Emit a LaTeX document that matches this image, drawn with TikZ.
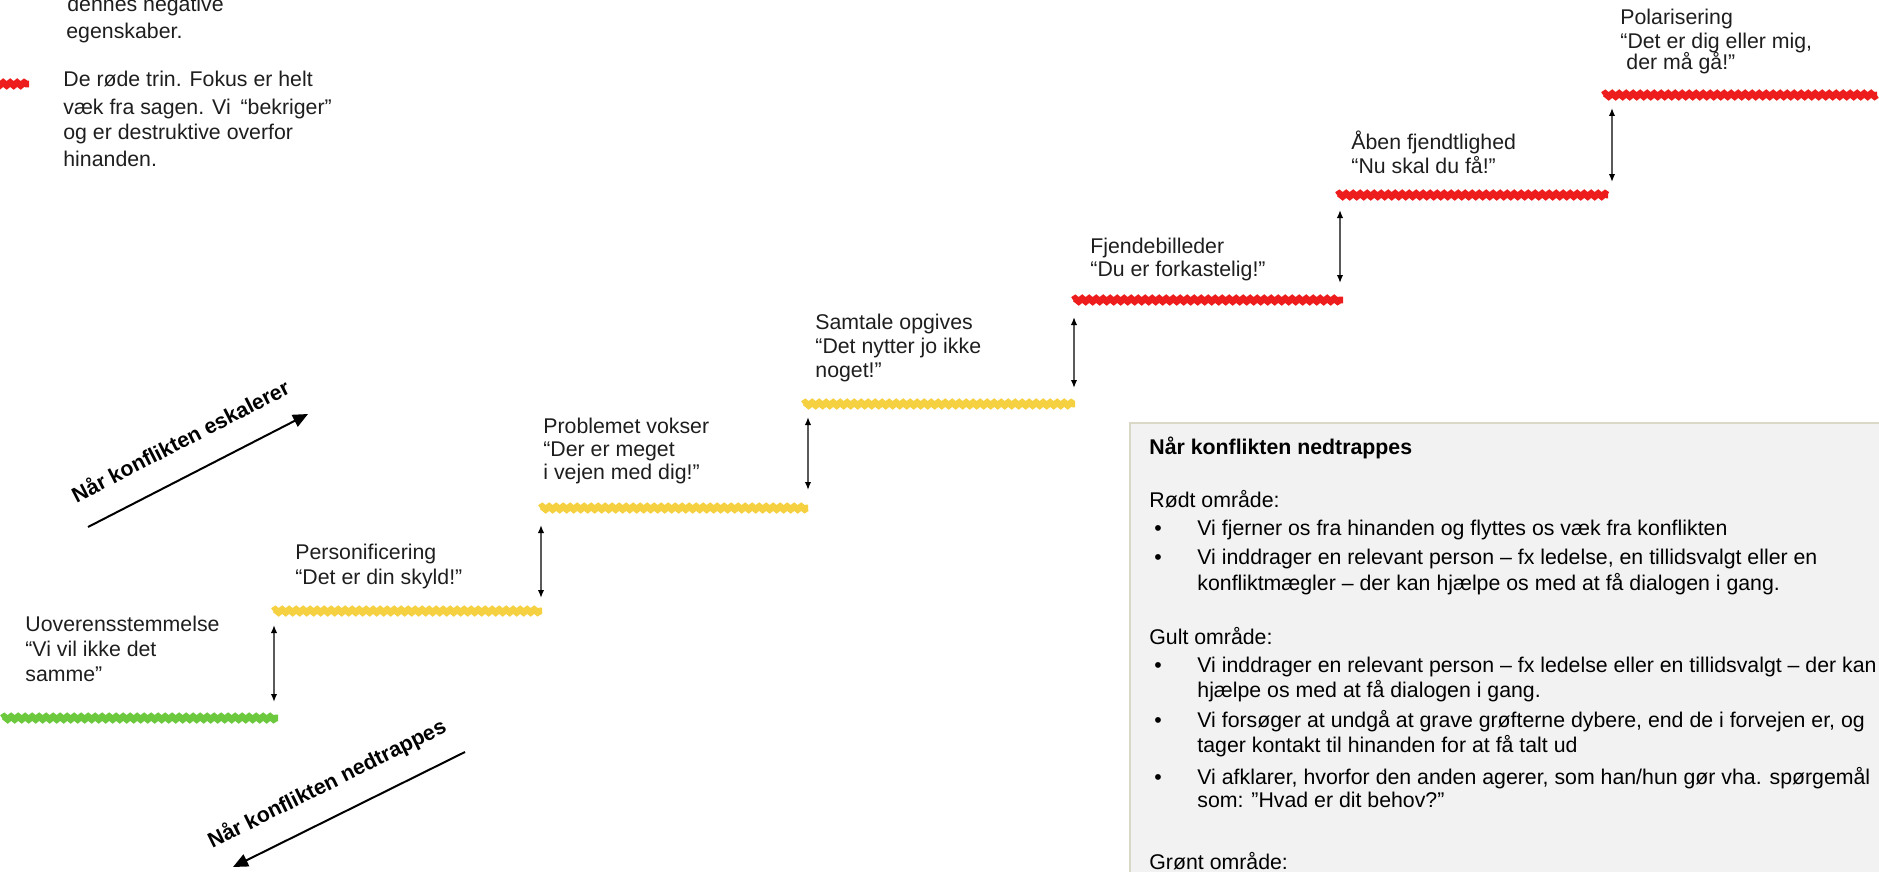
\documentclass[tikz,border=0pt]{standalone}
\usepackage{fontspec}
\setmainfont{Liberation Sans}
\usetikzlibrary{arrows.meta,decorations.pathmorphing}
\definecolor{stepgreen}{HTML}{6CC83C}
\definecolor{stepyellow}{HTML}{F5D142}
\definecolor{stepred}{HTML}{EE1D1D}
\definecolor{boxfill}{HTML}{F2F2F2}
\definecolor{boxline}{HTML}{DAD8C6}
\definecolor{txt}{HTML}{1E1E1E}
\definecolor{vline}{HTML}{5A5A5A}
\begin{document}
\begin{tikzpicture}[x=0.5pt,y=-0.5pt,
  lbl/.style={anchor=base west, inner sep=0pt, text=txt, font=\fontsize{10.65}{12}\selectfont},
  boxtxt/.style={anchor=base west, inner sep=0pt, text=black, font=\fontsize{10.65}{12}\selectfont},
  stepline/.style={line width=3.4pt, decorate, decoration={snake, amplitude=0.7pt, segment length=3.5pt}},
  rise/.style={draw=vline, line width=0.75pt, {Latex[length=4pt,width=3.2pt,color=black]}-{Latex[length=4pt,width=3.2pt,color=black]}},
  trend/.style={draw=black, line width=1pt, -{Triangle[length=7.5pt,width=6.5pt]}},
  trendtxt/.style={anchor=base, inner sep=0pt, text=black, font=\bfseries\fontsize{10.65}{12}\selectfont}
]
\useasboundingbox (0,0) rectangle (1879,872);
\clip (0,0) rectangle (1879,872);

% info box
\path[fill=boxfill, draw=boxline, line width=1pt] (1130,423) rectangle (1900,900);

% step coordinates
\coordinate (g1) at (2,718);    \coordinate (g2) at (278,718);
\coordinate (ya1) at (273,611); \coordinate (ya2) at (542,611);
\coordinate (yb1) at (540,508); \coordinate (yb2) at (808,508);
\coordinate (yc1) at (803,404); \coordinate (yc2) at (1075,404);
\coordinate (ra1) at (1073,300);\coordinate (ra2) at (1343,300);
\coordinate (rb1) at (1337,195);\coordinate (rb2) at (1608,195);
\coordinate (rc1) at (1603,95); \coordinate (rc2) at (1877,95);
\coordinate (rm1) at (-6,84);   \coordinate (rm2) at (29,84);

\draw[stepline, draw=stepgreen] (g1) -- (g2);
\draw[stepline, draw=stepyellow] (ya1) -- (ya2);
\draw[stepline, draw=stepyellow] (yb1) -- (yb2);
\draw[stepline, draw=stepyellow] (yc1) -- (yc2);
\draw[stepline, draw=stepred] (ra1) -- (ra2);
\draw[stepline, draw=stepred] (rb1) -- (rb2);
\draw[stepline, draw=stepred] (rc1) -- (rc2);
\draw[stepline, draw=stepred] (rm1) -- (rm2);

% vertical rise arrows
\coordinate (a1t) at (274,625);  \coordinate (a1b) at (274,702);
\coordinate (a2t) at (541,525);  \coordinate (a2b) at (541,598);
\coordinate (a3t) at (808,417);  \coordinate (a3b) at (808,490);
\coordinate (a4t) at (1074,317); \coordinate (a4b) at (1074,388);
\coordinate (a5t) at (1340,210); \coordinate (a5b) at (1340,283);
\coordinate (a6t) at (1612,108); \coordinate (a6b) at (1612,182);
\draw[rise] (a1t) -- (a1b);
\draw[rise] (a2t) -- (a2b);
\draw[rise] (a3t) -- (a3b);
\draw[rise] (a4t) -- (a4b);
\draw[rise] (a5t) -- (a5b);
\draw[rise] (a6t) -- (a6b);

% diagonal trend arrows
\coordinate (e1) at (88,527);  \coordinate (e2) at (308,414);
\coordinate (d1) at (465,752); \coordinate (d2) at (233,867);
\draw[trend] (e1) -- (e2);
\draw[trend] (d1) -- (d2);
\node[trendtxt, rotate=27.2] (esc) at (184,448) {Når konflikten eskalerer};
\node[trendtxt, rotate=26.4] (ned) at (330,790) {Når konflikten nedtrappes};

% top-left legend text
\node[lbl] (t1) at (67,11.5) {dennes negative};
\node[lbl] (t2) at (66,38.5) {egenskaber.};
\node[lbl] (t3) at (63,86.5) {De røde trin. Fokus er helt};
\node[lbl] (t4) at (63,114.5) {væk fra sagen. Vi\hspace{2pt} “bekriger”};
\node[lbl] (t5) at (63,139.5) {og er destruktive overfor};
\node[lbl] (t6) at (63,166.5) {hinanden.};

% step labels
\node[lbl] (u1) at (25,631.5) {Uoverensstemmelse};
\node[lbl] (u2) at (25,656.5) {“Vi vil ikke det};
\node[lbl] (u3) at (25,681.5) {samme”};

\node[lbl] (p1) at (295,559) {Personificering};
\node[lbl] (p2) at (295,584) {“Det er din skyld!”};

\node[lbl] (v1) at (543,433.5) {Problemet vokser};
\node[lbl] (v2) at (543,456.5) {“Der er meget};
\node[lbl] (v3) at (543,479.5) {i vejen med dig!”};

\node[lbl] (s1) at (815,329) {Samtale opgives};
\node[lbl] (s2) at (815,353) {“Det nytter jo ikke};
\node[lbl] (s3) at (815,377) {noget!”};

\node[lbl] (f1) at (1090,253.5) {Fjendebilleder};
\node[lbl] (f2) at (1090,276.5) {“Du er forkastelig!”};

\node[lbl] (h1) at (1351,149.5) {Åben fjendtlighed};
\node[lbl] (h2) at (1351,173.5) {“Nu skal du få!”};

\node[lbl] (q1) at (1620,24.5) {Polarisering};
\node[lbl] (q2) at (1620,48.5) {“Det er dig eller mig,};
\node[lbl] (q3) at (1626,70) {der må gå!”};

% box text
\node[boxtxt, font=\bfseries\fontsize{10.65}{12}\selectfont] (bh) at (1149,454) {Når konflikten nedtrappes};
\node[boxtxt] (br) at (1149,507) {Rødt område:};
\node[boxtxt] (bb1) at (1154,535) {•};
\node[boxtxt] (b1) at (1197,535) {Vi fjerner os fra hinanden og flyttes os væk fra konflikten};
\node[boxtxt] (bb2) at (1154,564) {•};
\node[boxtxt] (b2a) at (1197,564) {Vi inddrager en relevant person – fx ledelse, en tillidsvalgt eller en};
\node[boxtxt] (b2b) at (1197,590) {konfliktmægler – der kan hjælpe os med at få dialogen i gang.};
\node[boxtxt] (bg) at (1149,644) {Gult område:};
\node[boxtxt] (bb3) at (1154,672) {•};
\node[boxtxt] (b3a) at (1197,672) {Vi inddrager en relevant person – fx ledelse eller en tillidsvalgt – der kan};
\node[boxtxt] (b3b) at (1197,697) {hjælpe os med at få dialogen i gang.};
\node[boxtxt] (bb4) at (1154,727) {•};
\node[boxtxt] (b4a) at (1197,727) {Vi forsøger at undgå at grave grøfterne dybere, end de i forvejen er, og};
\node[boxtxt] (b4b) at (1197,752) {tager kontakt til hinanden for at få talt ud};
\node[boxtxt] (bb5) at (1154,784) {•};
\node[boxtxt] (b5a) at (1197,784) {Vi afklarer, hvorfor den anden agerer, som han/hun gør vha. spørgemål};
\node[boxtxt] (b5b) at (1197,807) {som: ”Hvad er dit behov?”};
\node[boxtxt] (bgr) at (1149,869) {Grønt område:};
\end{tikzpicture}
\end{document}
